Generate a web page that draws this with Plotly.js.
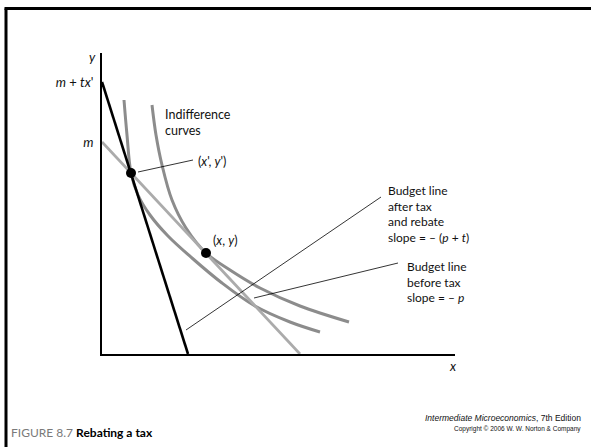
<!DOCTYPE html>
<html><head><meta charset="utf-8">
<script src="https://cdn.plot.ly/plotly-3.0.1.min.js"></script>
<style>html,body{margin:0;padding:0;background:#fff}#chart{width:591px;height:447px}</style>
</head><body><div id="chart"></div>
<script>
// ---- data (diagram units) ----
const taxLineX = [0, 86];          // budget line after tax and rebate
const taxLineY = [272, 0];
const budgetLineX = [0, 198];      // budget line before tax
const budgetLineY = [212, 0];
const innerCurveX = [22, 25, 29, 36, 48, 66, 90, 120, 153, 188, 218];
const innerCurveY = [254, 219, 181, 159, 139, 118, 96, 71, 48, 32, 22];
const outerCurveX = [50, 54, 60, 70, 84, 104, 128, 158, 198, 247];
const outerCurveY = [249, 219, 189, 154, 126, 101, 84, 66, 48, 32];
const choiceX = [29, 104];         // (x', y') and (x, y)
const choiceY = [181, 101];
const yTickVals = [212, 272];
const yTickText = ['<i>m</i>', '<i>m</i> + <i>tx</i>\''];

// ---- layout geometry (pixels) ----
const W = 591, H = 447, L = 102, T = 53, R = 455, B = 354;
const px = v => (v - L) / (R - L);
const py = v => (B - v) / (B - T);

const txtFont = {family: 'Lato, "Open Sans", sans-serif', size: 12.5, color: '#111'};
function ann(text, x, y, xa, ya, font) {
  return {text, x: px(x), y: py(y), xref: 'paper', yref: 'paper', xanchor: xa, yanchor: ya,
          align: xa === 'right' ? 'right' : 'left', showarrow: false, font: font || txtFont};
}

const traces = [
  {x: innerCurveX, y: innerCurveY, mode: 'lines', line: {color: '#8c8c8c', width: 3, shape: 'spline', smoothing: 1}},
  {x: outerCurveX, y: outerCurveY, mode: 'lines', line: {color: '#8c8c8c', width: 3, shape: 'spline', smoothing: 1}},
  {x: budgetLineX, y: budgetLineY, mode: 'lines', line: {color: '#ababab', width: 2.8}},
  {x: taxLineX, y: taxLineY, mode: 'lines', line: {color: '#000', width: 2.6}},
  {x: choiceX, y: choiceY, mode: 'markers', marker: {color: '#000', size: 10}}
];

const leader = (x0, y0, x1, y1) => ({type: 'line', xref: 'paper', yref: 'paper',
  x0: px(x0), y0: py(y0), x1: px(x1), y1: py(y1), line: {color: '#000', width: 0.8}});

const layout = {
  width: W, height: H, showlegend: false,
  paper_bgcolor: '#fff', plot_bgcolor: '#fff',
  margin: {l: L, r: W - R, t: T, b: H - B, pad: 0},
  xaxis: {range: [0, R - L], showgrid: false, zeroline: false, showticklabels: false, ticks: '',
          showline: true, linecolor: '#000', linewidth: 2, fixedrange: true},
  yaxis: {range: [0, B - T], showgrid: false, zeroline: false, ticks: '',
          tickvals: yTickVals, ticktext: yTickText, ticklabelstandoff: 4,
          tickfont: {family: 'Lato, sans-serif', size: 13, color: '#111'},
          showline: true, linecolor: '#000', linewidth: 2, fixedrange: true},
  shapes: [
    leader(138, 172, 193, 160),
    leader(186, 330, 381, 197),
    leader(254, 298, 398, 263),
    {type: 'line', xref: 'paper', yref: 'paper', x0: px(6), x1: px(6), y0: py(8.5), y1: py(460), line: {color: '#000', width: 3}},
    {type: 'line', xref: 'paper', yref: 'paper', x0: px(4.5), x1: px(600), y0: py(8.5), y1: py(8.5), line: {color: '#000', width: 3}}
  ],
  annotations: [
    ann('<i>y</i>', 98, 57, 'right', 'middle', {family: 'Lato, sans-serif', size: 13, color: '#111'}),
    ann('<i>x</i>', 453, 366, 'center', 'middle', {family: 'Lato, sans-serif', size: 13, color: '#111'}),
    ann('Indifference<br>curves', 163, 105, 'left', 'top'),
    ann('(<i>x</i>\', <i>y</i>\')', 196, 161, 'left', 'middle'),
    ann('(<i>x</i>, <i>y</i>)', 211, 240, 'left', 'middle'),
    ann('Budget line<br>after tax<br>and rebate<br>slope = – (<i>p</i> + <i>t</i>)', 386, 181, 'left', 'top',
        {family: 'Lato, "Open Sans", sans-serif', size: 12, color: '#111'}),
    ann('Budget line<br>before tax<br>slope = – <i>p</i>', 405, 257, 'left', 'top',
        {family: 'Lato, "Open Sans", sans-serif', size: 12, color: '#111'}),
    ann('<span style="color:#7a7a7a">FIGURE 8.7</span> <b>Rebating a tax</b>', 9, 432, 'left', 'middle',
        {family: 'Lato, sans-serif', size: 12, color: '#000'}),
    ann('<i>Intermediate Microeconomics</i>, 7th Edition', 583, 418, 'right', 'middle',
        {family: '"Liberation Sans", Arial, sans-serif', size: 8.5, color: '#111'}),
    ann('Copyright © 2006 W. W. Norton & Company', 583, 429, 'right', 'middle',
        {family: '"Liberation Sans", Arial, sans-serif', size: 6.5, color: '#111'})
  ]
};

Plotly.newPlot('chart', traces, layout, {staticPlot: true, displayModeBar: false});
</script>
</body></html>
